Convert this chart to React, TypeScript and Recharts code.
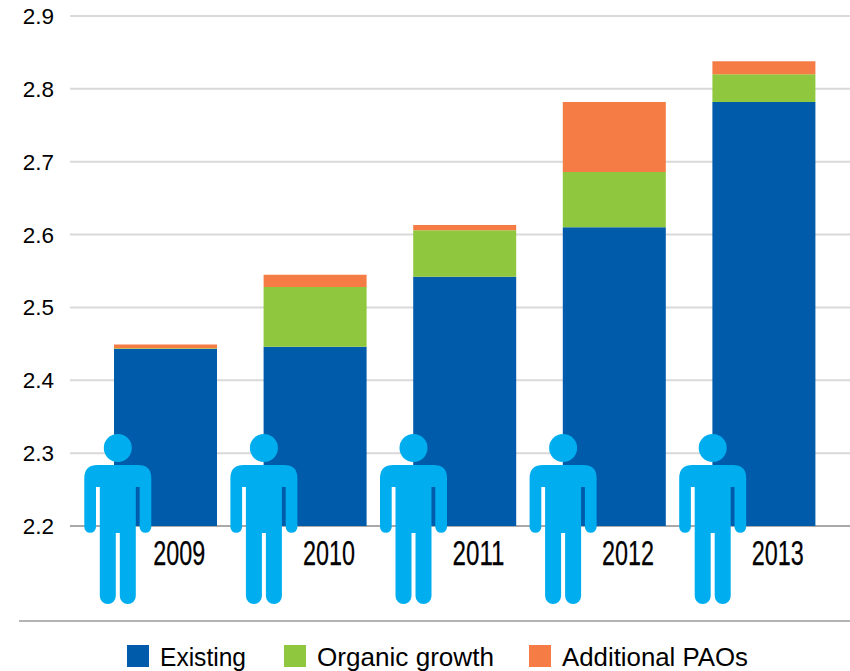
import React from "react";
import {
  BarChart,
  Bar,
  XAxis,
  YAxis,
  CartesianGrid,
  Legend,
} from "recharts";

const years = ["2009", "2010", "2011", "2012", "2013"];
const existing = [2.443, 2.446, 2.542, 2.61, 2.782];
const organicGrowth = [0.001, 0.082, 0.064, 0.076, 0.038];
const additionalPaos = [0.005, 0.017, 0.007, 0.096, 0.018];
const yTicks = [2.2, 2.3, 2.4, 2.5, 2.6, 2.7, 2.8, 2.9];

const chartData = years.map((year, i) => ({
  year,
  Existing: existing[i],
  "Organic growth": organicGrowth[i],
  "Additional PAOs": additionalPaos[i],
}));

const PLOT_BOTTOM = 526;
const legendLefts = [127, 284, 529];
const legendWidths = [86, 177, 186];

const PERSON_BODY =
  "M-33.5 478Q-33.5 465 -20 465L20 465Q33.5 465 33.5 478L33.5 527A5.85 5.85 0 0 1 21.8 527L21.8 487L18 487L18 596A8 8 0 0 1 2 596L2 533L-2 533L-2 596A8 8 0 0 1 -18 596L-18 487L-21.8 487L-21.8 527A5.85 5.85 0 0 1 -33.5 527Z";

// person icon and year label sit together under each bar
const PersonTick = ({ x, payload, index }: any) => {
  const cx = x - (index === 0 ? 48 : 51.5);
  return (
    <g>
      <circle cx={cx} cy={448} r={14} fill="#00AEEF" />
      <path d={PERSON_BODY} transform={`translate(${cx} 0)`} fill="#00AEEF" />
      <text
        x={x + 13.5}
        y={PLOT_BOTTOM + 39}
        textAnchor="middle"
        fontFamily="'Liberation Sans Narrow', 'Liberation Sans', sans-serif"
        fontSize={35}
        fill="#000"
        stroke="#000"
        strokeWidth={0.25}
        textLength={52}
        lengthAdjust="spacingAndGlyphs"
      >
        {payload.value}
      </text>
    </g>
  );
};

// the 2.2 line is darker than the others
const GridLine = ({ x1, x2, y1, y2 }: any) => (
  <line
    x1={x1}
    x2={x2}
    y1={y1}
    y2={y2}
    stroke={Math.round(y1) === PLOT_BOTTOM ? "#a9a9a9" : "#d9d9d9"}
    strokeWidth={2}
  />
);

const LegendRow = ({ payload }: any) => (
  <div style={{ position: "relative", width: 850, height: 51 }}>
    <div style={{ position: "absolute", left: 19, top: 0, width: 831, height: 2, background: "#b4b4b6" }} />
    {(payload || []).map((entry: any, i: number) => (
      <React.Fragment key={entry.value}>
        <div
          style={{
            position: "absolute",
            left: legendLefts[i],
            top: 25,
            width: 22,
            height: 22,
            background: entry.color,
          }}
        />
        <svg
          style={{ position: "absolute", left: legendLefts[i] + 33, top: 15, overflow: "visible" }}
          width={legendWidths[i]}
          height={36}
        >
          <text
            x={0}
            y={31}
            fontFamily="'Liberation Sans', Arial, sans-serif"
            fontSize={25}
            fill="#000"
            textLength={legendWidths[i]}
            lengthAdjust="spacingAndGlyphs"
          >
            {entry.value}
          </text>
        </svg>
      </React.Fragment>
    ))}
  </div>
);

export default function App() {
  return (
    <div style={{ position: "absolute", left: 0, top: 0, width: 850, height: 671, background: "#fff", overflow: "hidden" }}>
      <BarChart
        width={850}
        height={671}
        data={chartData}
        barSize={103}
        margin={{ top: 16, right: 0, bottom: 115, left: 0 }}
      >
        <CartesianGrid vertical={false} horizontal={<GridLine />} />
        <YAxis
          width={70}
          domain={[2.2, 2.9]}
          ticks={yTicks}
          allowDataOverflow
          axisLine={false}
          tickLine={false}
          tickSize={0}
          tickMargin={16}
          tickFormatter={(v: number) => v.toFixed(1)}
          tick={{ fontSize: 22.5, fontFamily: "'Liberation Sans', Arial, sans-serif", fill: "#000" }}
        />
        <Bar dataKey="Existing" stackId="a" fill="#005BAA" isAnimationActive={false} />
        <Bar dataKey="Organic growth" stackId="a" fill="#8FC73E" isAnimationActive={false} />
        <Bar dataKey="Additional PAOs" stackId="a" fill="#F57D45" isAnimationActive={false} />
        <XAxis
          dataKey="year"
          height={30}
          padding={{ left: 21, right: 11 }}
          axisLine={false}
          tickLine={false}
          interval={0}
          tick={<PersonTick />}
        />
        <Legend
          layout="horizontal"
          verticalAlign="middle"
          align="center"
          itemSorter={null}
          content={<LegendRow />}
          wrapperStyle={{ left: 0, top: 620, width: 850, height: 51, margin: 0 }}
        />
      </BarChart>
    </div>
  );
}
